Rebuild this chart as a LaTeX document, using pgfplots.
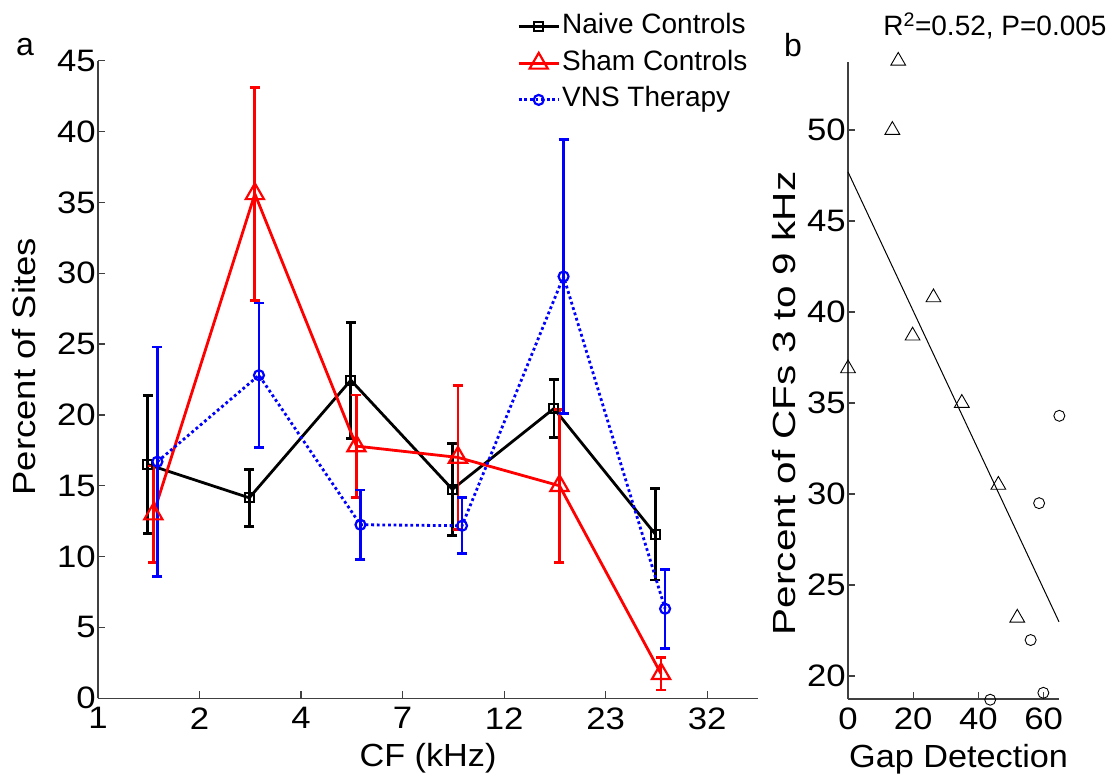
\documentclass[border=0pt]{standalone}
\usepackage{pgfplots}
\usepackage{pgfplotstable}
\pgfplotsset{compat=1.18}
\usepackage{fontspec}
\setmainfont{Liberation Sans}
\newfontfamily\tickfont[FakeStretch=1.12]{Liberation Sans}
\newfontfamily\xlabfont[FakeStretch=1.07]{Liberation Sans}
\newfontfamily\ylabafont[FakeStretch=1.14]{Liberation Sans}
\newfontfamily\ylabbfont[FakeStretch=1.265]{Liberation Sans}

\pgfplotstableread{
x y e
0.49 16.50 4.85
1.49 14.15 2.00
2.49 22.45 4.10
3.49 14.75 3.25
4.49 20.45 2.05
5.49 11.57 3.22
}\naive
\pgfplotstableread{
x y e
0.545 13.00 3.40
1.545 35.60 7.50
2.545 17.80 3.60
3.545 17.00 5.10
4.545 15.00 5.40
5.545 1.73 1.14
}\sham
\pgfplotstableread{
x y e
0.585 16.70 8.10
1.585 22.80 5.10
2.585 12.25 2.45
3.585 12.18 1.98
4.585 29.77 9.68
5.585 6.32 2.79
}\vns
\pgfplotstableread{
x y
15.4 53.8
13.6 50.0
0.0 36.9
26.2 40.8
19.8 38.7
34.9 35.0
46.1 30.5
51.9 23.2
}\tri
\pgfplotstableread{
x y
64.8 34.3
58.6 29.5
56.0 21.98
43.6 18.7
59.9 19.08
}\circ

\pgfplotsset{
  mystyle/.style={
    scale only axis, anchor=south west,
    axis lines*=left,
    axis line style={black!75, line width=1.4pt},
    tick align=inside,
    major tick length=7pt,
    every tick/.style={black!75, line width=1.2pt},
    ticklabel style={font=\tickfont\fontsize{31}{36}\selectfont, inner sep=2pt},
    xticklabel style={yshift=-7pt},
    /pgf/number format/assume math mode=true,
    clip=false,
  }
}

\begin{document}
\begin{tikzpicture}
\path[use as bounding box] (0pt,0pt) rectangle (1108pt,782pt);

\begin{axis}[mystyle,
  at={(98pt,83.7pt)}, width=660pt, height=637.6pt,
  xmin=0, xmax=6.5, ymin=0, ymax=45,
  xtick={0,1,2,3,4,5,6}, xticklabels={1,2,4,7,12,23,32},
  ytick={0,5,...,45},
  xlabel={CF (kHz)}, ylabel={Percent of Sites},
  xlabel style={font=\xlabfont\fontsize{32}{38}\selectfont, at={(axis description cs:0.5,-0.1077)}, anchor=base},
  ylabel style={font=\ylabafont\fontsize{32}{38}\selectfont, at={(axis description cs:-0.112,0.520)}, anchor=center},
  legend style={at={(axis description cs:0.632,1.080)}, anchor=north west,
    draw=none, fill=none, font=\fontsize{28}{32}\selectfont, inner sep=2pt,
    row sep=6.5pt, cells={anchor=west},
    nodes={inner sep=2pt, text height=20pt, text depth=6pt}},
  legend image code/.code={\draw[mark repeat=2,mark phase=2] plot coordinates {(0pt,0pt)(20pt,0pt)(40pt,0pt)};},
  error bars/error bar style={line width=2.8pt, solid},
  error bars/error mark options={rotate=90, mark size=5pt, line width=2.8pt, solid},
]
\addplot[black, line width=2.8pt, mark=square, mark size=4.5pt, mark options={solid, line width=2pt},
  error bars/.cd, y dir=both, y explicit] table[x=x, y=y, y error=e]{\naive};
\addlegendentry{Naive Controls}
\addplot[red, line width=2.8pt, mark=triangle, mark size=10.5pt, mark options={solid, line width=2.2pt},
  error bars/.cd, y dir=both, y explicit] table[x=x, y=y, y error=e]{\sham};
\addlegendentry{Sham Controls}
\addplot[blue, line width=2.8pt, dash pattern=on 2.8pt off 2.8pt, mark=o, mark size=5pt, mark options={solid, line width=2.2pt},
  error bars/.cd, y dir=both, y explicit] table[x=x, y=y, y error=e]{\vns};
\addlegendentry{VNS Therapy}
\end{axis}

\begin{axis}[mystyle,
  at={(848pt,83pt)}, width=211pt, height=637pt,
  xmin=0, xmax=64.7, ymin=18.74, ymax=53.74,
  xtick={0,20,40,60}, ytick={20,25,...,50},
  xlabel={Gap Detection}, ylabel={Percent of CFs 3 to 9 kHz},
  xlabel style={font=\xlabfont\fontsize{32}{38}\selectfont, at={(axis description cs:0.524,-0.1068)}, anchor=base},
  ylabel style={font=\ylabbfont\fontsize{32}{38}\selectfont, at={(axis description cs:-0.303,0.464)}, anchor=center},
]
\addplot[only marks, black, mark=triangle, mark size=8.5pt, mark options={line width=0.9pt}] table[x=x,y=y]{\tri};
\addplot[only marks, black, mark=o, mark size=5.5pt, mark options={line width=0.9pt}] table[x=x,y=y]{\circ};
\addplot[black, line width=1pt] coordinates {(0,47.7) (64.7,22.98)};
\end{axis}

\node[font=\fontsize{32}{38}\selectfont] at (25pt,735pt) {a};
\node[font=\fontsize{32}{38}\selectfont] at (793pt,737pt) {b};
\node[font=\fontsize{28}{34}\selectfont] at (995pt,756pt) {R\textsuperscript{2}=0.52, P=0.005};
\end{tikzpicture}
\end{document}
